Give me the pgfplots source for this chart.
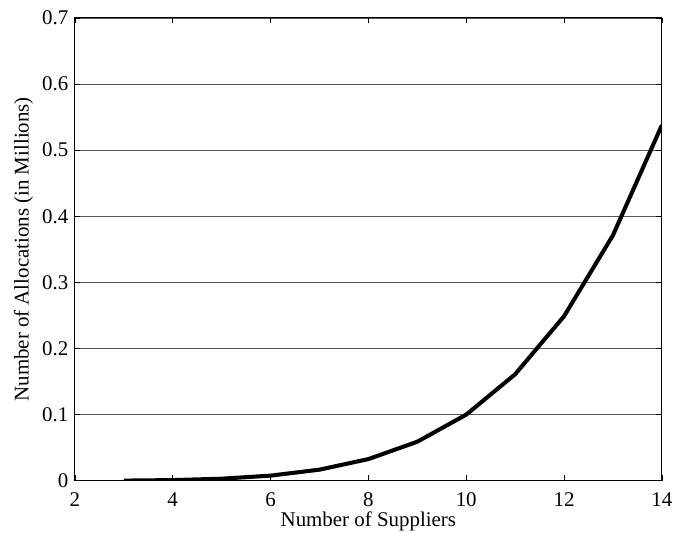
\documentclass[border=0pt]{standalone}
\usepackage{pgfplots}
\pgfplotsset{compat=1.18}
\usepackage{fontspec}
\setmainfont{Liberation Serif}
\begin{document}
\fontsize{15.5}{18}\selectfont
\begin{tikzpicture}
\begin{axis}[
  scale only axis,
  width=435pt, height=343pt,
  xmin=2, xmax=14, ymin=0, ymax=0.7,
  xtick={2,4,...,14},
  ytick={0,0.1,...,0.7},
  yticklabels={0,0.1,0.2,0.3,0.4,0.5,0.6,0.7},
  tick align=inside,
  major tick length=4pt,
  ymajorgrids,
  grid style={black!65, line width=0.5pt},
  axis line style={line width=0.8pt},
  tick style={black, line width=0.5pt},
  /pgf/number format/assume math mode=true,
  tick label style={font=\fontsize{15.5}{18}\selectfont},
  label style={font=\fontsize{15.5}{18}\selectfont},
  xlabel={Number of Suppliers},
  ylabel={Number of Allocations (in Millions)},
  xlabel style={at={(axis description cs:0.5,-0.0991)}, anchor=base},
  ylabel style={at={(axis description cs:-0.0874,0.5)}, anchor=center},
  xticklabel style={yshift=-3.2pt},
  yticklabel style={xshift=0.5pt},
]
\addplot[black, line width=3pt, line join=round] coordinates {
(3,0.000243) (4,0.001024) (5,0.003125) (6,0.007776) (7,0.016807)
(8,0.032768) (9,0.059049) (10,0.1) (11,0.161051) (12,0.248832)
(13,0.371293) (14,0.537824)
};
\end{axis}
\pgfresetboundingbox
\path[use as bounding box] ([shift={(-55.5pt,-38.5pt)}]current axis.south west) rectangle ([shift={(9pt,13.3pt)}]current axis.north east);
\end{tikzpicture}
\end{document}
